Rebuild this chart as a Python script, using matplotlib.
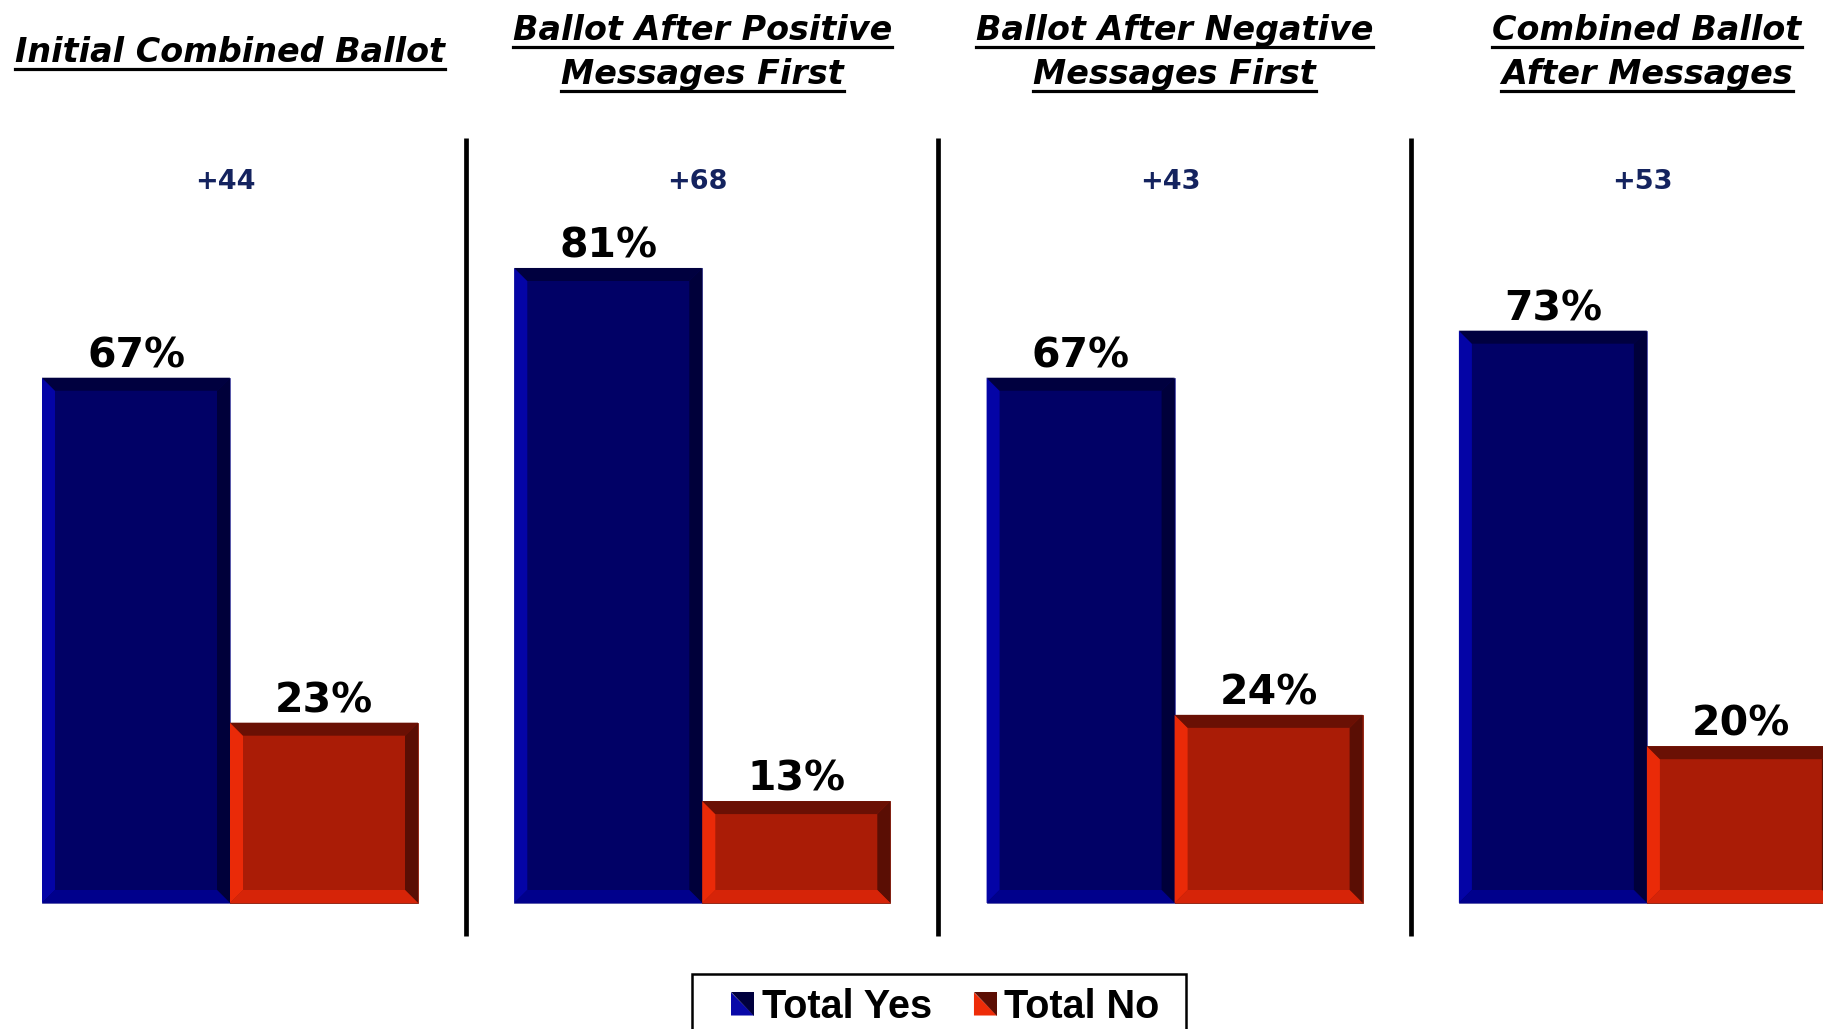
import matplotlib
matplotlib.use("Agg")
import matplotlib.pyplot as plt
import matplotlib.transforms as mtransforms
from matplotlib.patches import Polygon, Rectangle
from matplotlib.lines import Line2D
from matplotlib.legend_handler import HandlerBase

# Données
titles = [["Initial Combined Ballot"],
          ["Ballot After Positive", "Messages First"],
          ["Ballot After Negative", "Messages First"],
          ["Combined Ballot", "After Messages"]]
yes = [67, 81, 67, 73]
no = [23, 13, 24, 20]
margins = ["+44", "+68", "+43", "+53"]
series = ["Total Yes", "Total No"]

# couleurs : (face, gauche, haut, droite, bas)
blue = ("#010166", "#0404A6", "#00003F", "#00003A", "#00008C")
red = ("#AA1C06", "#EA2A08", "#6A1004", "#5A0E04", "#D62408")

W, H = 1824, 1029
fig = plt.figure(figsize=(W / 100, H / 100), dpi=100)
ax = fig.add_axes([0, 0, 1, 1])
px_x = 472.3          # pixels par groupe
px_y = 7.84           # pixels par point de %
x0_px, base_px = 230, 903
ax.set_xlim(-x0_px / px_x, (W - x0_px) / px_x)
ax.set_ylim(-(H - base_px) / px_y, base_px / px_y)
ax.axis("off")

width = 188 / px_x
bev_x = 13 / px_x
bev_y = 13 / px_y
xs = list(range(len(yes)))


def bevel_bar(rects, cols):
    for r in rects:
        x, y, w, h = r.get_x(), r.get_y(), r.get_width(), r.get_height()
        bx, by = bev_x, min(bev_y, h / 3)
        ix0, ix1, iy0, iy1 = x + bx, x + w - bx, y + by, y + h - by
        quads = [
            [(x, y), (ix0, iy0), (ix0, iy1), (x, y + h)],           # gauche
            [(x, y + h), (ix0, iy1), (ix1, iy1), (x + w, y + h)],   # haut
            [(x + w, y + h), (ix1, iy1), (ix1, iy0), (x + w, y)],   # droite
            [(x, y), (x + w, y), (ix1, iy0), (ix0, iy0)],           # bas
        ]
        for q, c in zip(quads, cols[1:]):
            ax.add_patch(Polygon(q, closed=True, facecolor=c, edgecolor="none", zorder=3))


b1 = ax.bar([x - width / 2 for x in xs], yes, width, color=blue[0], zorder=2,
            edgecolor="#5555aa", linewidth=0.6)
b2 = ax.bar([x + width / 2 for x in xs], no, width, color=red[0], zorder=2,
            edgecolor="#8a1a08", linewidth=0.6)
bevel_bar(b1, blue)
bevel_bar(b2, red)

for bars, vals in ((b1, yes), (b2, no)):
    for r, v in zip(bars, vals):
        ax.annotate(f"{v}%", (r.get_x() + r.get_width() / 2, v), xytext=(0, 7.5),
                    textcoords="offset points", ha="center", va="baseline",
                    fontsize=29.5, fontweight="bold", color="black",
                    family="DejaVu Sans", zorder=5)

# séparateurs verticaux
for x in xs[:-1]:
    ax.plot([x + 0.5, x + 0.5], [(base_px - 138) / px_y, (base_px - 936) / px_y],
            color="black", lw=3.4, solid_capstyle="butt", zorder=1)

# écarts
for x, m in zip(xs, margins):
    ax.text(x - 0.01, (base_px - 182) / px_y, m, ha="center", va="center",
            fontsize=19.5, fontweight="bold", color="#14235F", family="DejaVu Sans")

# titres soulignés
trans = mtransforms.blended_transform_factory(ax.transData, fig.transFigure)
title_texts = []
for x, lines in zip(xs, titles):
    bases = [62] if len(lines) == 1 else [40, 84]
    for line, b in zip(lines, bases):
        t = ax.text(x, 1 - b / H, line, transform=trans, ha="center", va="baseline",
                    fontsize=24, fontweight="bold", style="italic",
                    family="DejaVu Sans", color="black")
        title_texts.append((t, b))

fig.canvas.draw()
renderer = fig.canvas.get_renderer()
for t, b in title_texts:
    bb = t.get_window_extent(renderer)
    yu = H - (b + 6.5)
    fig.add_artist(Line2D([bb.x0 / W, bb.x1 / W], [yu / H, yu / H], color="black",
                          lw=2.3, transform=fig.transFigure))


# légende : carrés coupés en diagonale
class Swatch:
    def __init__(self, light, dark):
        self.light, self.dark = light, dark


class SwatchHandler(HandlerBase):
    def create_artists(self, legend, orig, xd, yd, w, h, fs, trans):
        s = h
        x0, y0 = -xd + (w - s) / 2, -yd
        lo = Polygon([(x0, y0), (x0 + s, y0), (x0, y0 + s)], facecolor=orig.light,
                     edgecolor="none", transform=trans)
        hi = Polygon([(x0 + s, y0), (x0 + s, y0 + s), (x0, y0 + s)], facecolor=orig.dark,
                     edgecolor="none", transform=trans)
        return [lo, hi]


handles = [Swatch("#0808A8", "#00003E"), Swatch("#EE2C08", "#5C0E04")]
fig.add_artist(Rectangle((692 / W, -0.05), (1186 - 692) / W, 0.05 + 1 - 974 / H,
                         transform=fig.transFigure, fill=False, edgecolor="black", lw=1.8))
fig.legend(handles, series, handler_map={Swatch: SwatchHandler()},
           loc="center", bbox_to_anchor=(946 / W, 1 - 1007 / H), ncol=2, frameon=False,
           borderpad=0, handlelength=0.52, handleheight=0.52, handletextpad=0.22,
           columnspacing=1.1, prop={"family": "Liberation Sans", "weight": "bold", "size": 28.5})

fig.savefig("out.png", dpi=100)
